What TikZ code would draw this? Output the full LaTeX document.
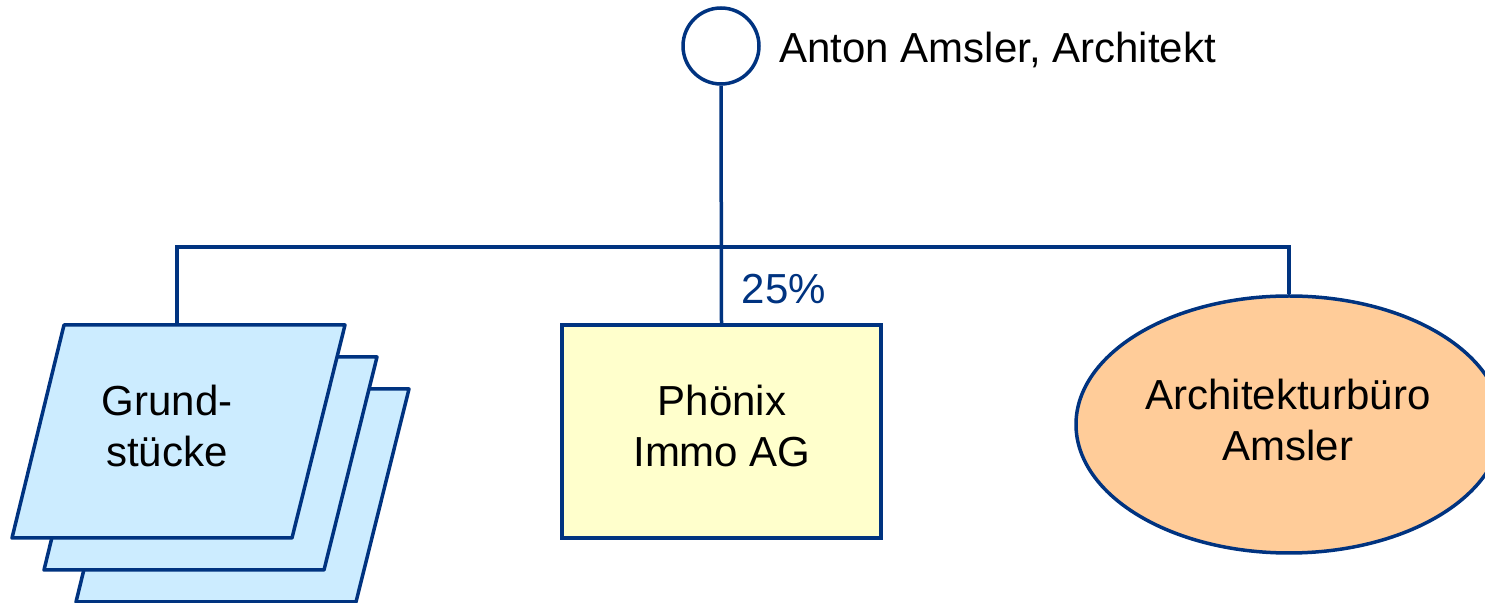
\documentclass[tikz,border=0pt]{standalone}
\usepackage{fontspec}
\setmainfont{Liberation Sans}
\usetikzlibrary{shapes.geometric}
\definecolor{linkblue}{RGB}{0,51,128}
\definecolor{plotfill}{RGB}{204,236,255}
\definecolor{firmfill}{RGB}{255,255,204}
\definecolor{officefill}{RGB}{255,204,153}
\begin{document}
\begin{tikzpicture}[x=0.5pt,y=-0.5pt,
  every node/.style={font=\fontsize{21}{25.5}\selectfont},
  link/.style={draw=linkblue,line width=1.75pt},
  personmark/.style={circle,draw=linkblue,line width=1.75pt,fill=white,minimum size=38pt,inner sep=0pt},
  firmbox/.style={rectangle,draw=linkblue,line width=1.75pt,fill=firmfill,minimum width=159.5pt,minimum height=106.5pt,inner sep=0pt},
  officebox/.style={ellipse,draw=linkblue,line width=1.75pt,fill=officefill,minimum width=213pt,minimum height=128.5pt,inner sep=0pt},
  sheet/.style={draw=linkblue,line width=1.75pt,fill=plotfill,line join=round},
  caption/.style={align=center,inner sep=0pt}]
\useasboundingbox (0,0) rectangle (1485,603);

% owner
\node[personmark] (person) at (721,46) {};
\node[anchor=base west,inner sep=0pt] (personname) at (779,63) {Anton Amsler, Architekt};

% stacked plot sheets (back to front)
\foreach \d in {64,32,0}{
  \draw[sheet] (64+\d,325+\d) -- (345+\d,325+\d) -- (292+\d,538+\d) -- (12+\d,538+\d) -- cycle;
}
\coordinate (plots) at (177,325);
\node[caption] (plotslabel) at (167,426) {Grund-\\stücke};

% holding company
\node[firmbox] (firm) at (721.5,431.5) {};
\node[caption] (firmlabel) at (722,425.5) {Phönix\\Immo AG};

% architecture office
\node[officebox] (office) at (1289,424.5) {};
\node[caption] (officelabel) at (1288,419.5) {Architekturbüro\\Amsler};

% ownership lines
\coordinate (bar) at (721,247);
\draw[link] (person.south) -- (firm.north);
\draw[link] (plots) -- (plots |- bar) -- (office.north |- bar) -- (office.north);
\node[text=linkblue,inner sep=0pt] (share) at (784,289) {25\%};
\end{tikzpicture}
\end{document}
